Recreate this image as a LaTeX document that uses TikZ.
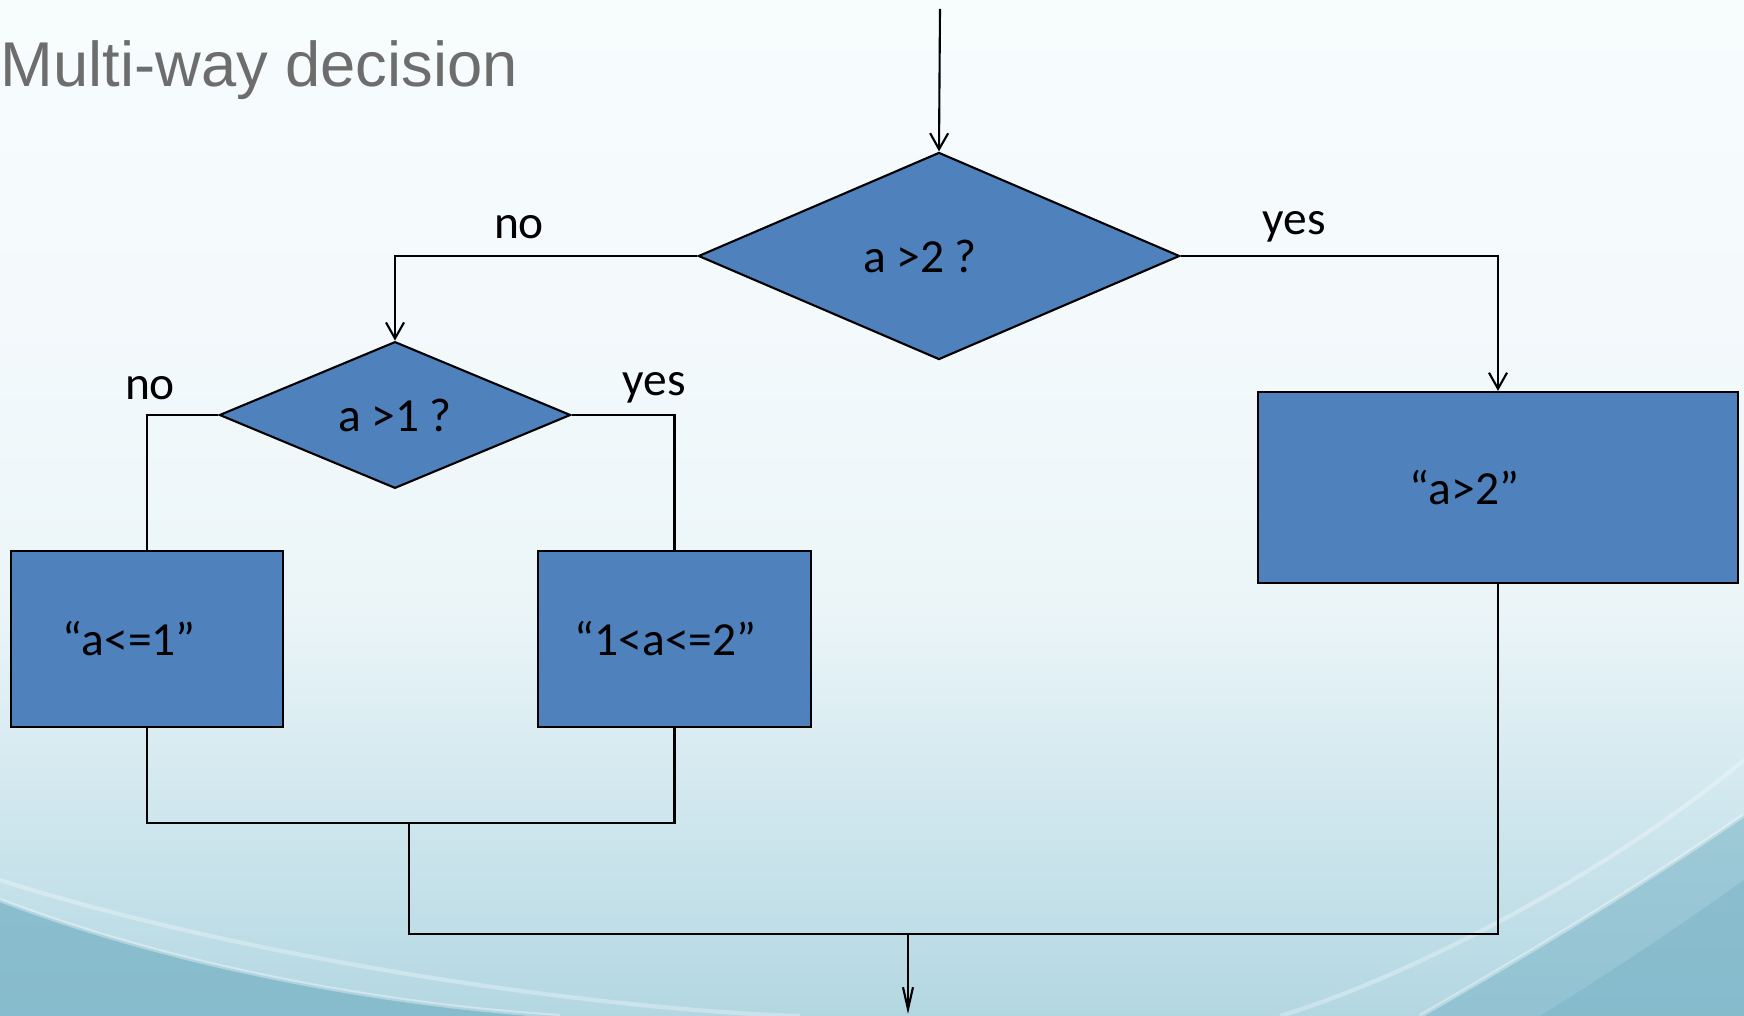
\documentclass[tikz,border=0pt]{standalone}
\usepackage{fontspec}
\usepackage{tikz}
\usetikzlibrary{arrows.meta}
\usetikzlibrary{positioning,shapes.geometric}
\usetikzlibrary{calc}
\newfontfamily\bodyfont{Carlito}
\newfontfamily\headfont{Liberation Sans}
\definecolor{boxblue}{HTML}{4F81BD}
\definecolor{headgray}{HTML}{6D6D6D}
\definecolor{bgtop}{HTML}{F7FCFD}
\definecolor{bgupper}{HTML}{F4FAFC}
\definecolor{bgmid}{HTML}{EBF5F8}
\definecolor{bglow}{HTML}{D2E8EF}
\definecolor{bgbot}{HTML}{B3D7E2}
\definecolor{wave}{HTML}{78B3C6}
\pgfdeclareverticalshading{slidebg}{100bp}{color(0bp)=(bgbot); color(25bp)=(bgbot); color(36bp)=(bglow); color(45bp)=(bgmid); color(60bp)=(bgupper); color(75bp)=(bgtop); color(100bp)=(bgtop)}
\tikzset{
    decision/.style={
        draw,
        diamond,
        fill=boxblue,
        line width=0.6pt,
        inner sep=0pt,
        font=\bodyfont\fontsize{13.5}{16}\selectfont
    },
    procbox/.style={
        draw,
        rectangle,
        fill=boxblue,
        line width=0.6pt,
        inner sep=0pt,
        align=left,
        font=\bodyfont\fontsize{13.5}{16}\selectfont
    },
    flow/.style={
        draw,
        -{Straight Barb[length=1.6mm, width=1.8mm]},
        line width=0.6pt
    },
    outflow/.style={
        draw,
        -{Straight Barb[length=2.2mm, width=1mm]},
        line width=0.6pt
    },
    plainline/.style={
        draw,
        line width=0.6pt
    },
    answer/.style={font=\bodyfont\fontsize{13.5}{16}\selectfont}
}

\begin{document}
\begin{tikzpicture}[x=0.01cm, y=-0.01cm]
    % Background
    \useasboundingbox (0,0) rectangle (1744,1016);
    \shade[shading=slidebg] (0,0) rectangle (1744,1016);
    \fill[wave, opacity=0.75] (0,900) .. controls (170,965) and (380,1005) .. (560,1016) -- (0,1016) -- cycle;
    \fill[wave, opacity=0.55] (1744,815) .. controls (1620,900) and (1500,970) .. (1420,1016) -- (1744,1016) -- cycle;
    \fill[wave, opacity=0.45] (1744,880) .. controls (1660,940) and (1590,985) .. (1540,1016) -- (1744,1016) -- cycle;
    \draw[white, opacity=0.35, line width=1.2pt] (0,900) .. controls (170,965) and (380,1005) .. (560,1016);
    \draw[white, opacity=0.3, line width=1.2pt] (0,880) .. controls (250,960) and (600,1010) .. (800,1016);
    \draw[white, opacity=0.35, line width=1.2pt] (1744,815) .. controls (1620,900) and (1500,970) .. (1420,1016);
    \draw[white, opacity=0.3, line width=1.2pt] (1744,760) .. controls (1600,880) and (1400,980) .. (1280,1016);

    % Title
    \node[anchor=base west, inner sep=0pt, text=headgray, font=\headfont\fontsize{18}{22}\selectfont] (title) at (0,87) {Multi-way decision};

    % Decisions
    \node[decision, minimum width=4.81cm, minimum height=2.07cm] (q2) at (939,256) {a >2 ?\hspace*{0.38cm}};
    \node[decision, minimum width=3.51cm, minimum height=1.44cm] (q1) at (395,415) {a >1 ?};

    % Results
    \node[procbox, minimum width=2.72cm, minimum height=1.76cm, text width=1.68cm] (r0) at (147,639) {“a<=1”};
    \node[procbox, minimum width=2.73cm, minimum height=1.76cm, text width=1.99cm] (r1) at (674.5,639) {“1<a<=2”};
    \node[procbox, minimum width=4.80cm, minimum height=1.91cm, text width=1.76cm] (r2) at (1498,487.5) {\raisebox{-0.08cm}{“a>2”}};

    % Entry and exit points
    \coordinate (entry) at (940,9);
    \coordinate (j1) at (409,823);
    \coordinate (j2) at (908,934);
    \coordinate (exit) at (908,1014);

    % Connectors
    \draw[flow] (entry) -- (q2.north);
    \draw[flow] (q2.west) -| (q1.north);
    \draw[flow] (q2.east) -| (r2.north);
    \draw[plainline] (q1.west) -| (r0.north);
    \draw[plainline] (q1.east) -| (r1.north);
    \draw[plainline] (r0.south) |- (j1) -| (r1.south);
    \draw[plainline] (j1) |- (j2) -| (r2.south);
    \draw[outflow] (j2) -- (exit);

    % Branch labels
    \node[answer] (no2) at (519,227) {no};
    \node[answer] (yes2) at (1294,227) {yes};
    \node[answer] (no1) at (150,388) {no};
    \node[answer] (yes1) at (654,388) {yes};
\end{tikzpicture}
\end{document}
